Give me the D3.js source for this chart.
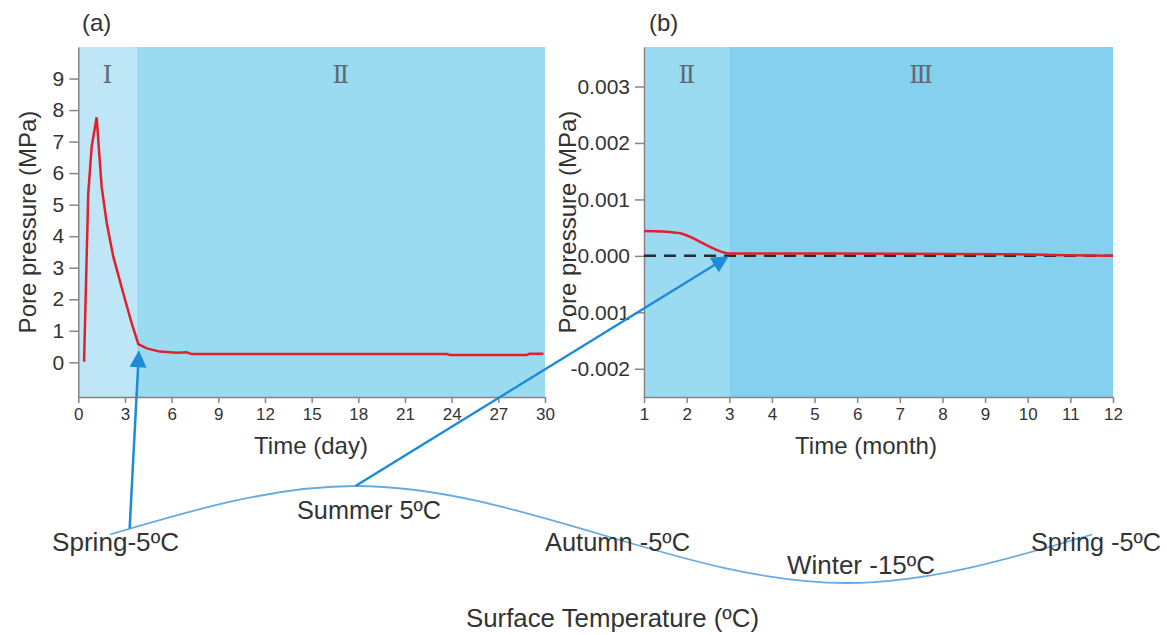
<!DOCTYPE html>
<html>
<head>
<meta charset="utf-8">
<script src="https://cdn.jsdelivr.net/npm/d3@7"></script>
<style>
  body { margin: 0; background: #fff; }
  svg text { font-family: "Liberation Sans", Arial, sans-serif; fill: #333; }
</style>
</head>
<body>
<svg id="chart" width="1167" height="635"></svg>
<script>
"use strict"

// panel (a): pore pressure during the first 30 days
const dayTimes    = [0.37, 0.64, 0.86, 1.18, 1.5, 1.83, 2.25, 2.89, 3.43, 3.86, 4.4, 5.25, 6.32, 6.97, 7.29, 23.7, 23.9, 28.8, 29.0, 29.9];
const dayPressure = [0.02, 5.36, 6.84, 7.77, 5.57, 4.41, 3.35, 2.19, 1.24, 0.58, 0.44, 0.34, 0.30, 0.32, 0.26, 0.26, 0.23, 0.23, 0.27, 0.27];
const dayTicks = [0, 3, 6, 9, 12, 15, 18, 21, 24, 27, 30];
const dayPressureTicks = [0, 1, 2, 3, 4, 5, 6, 7, 8, 9];
const dayStageNames = ["Ⅰ", "Ⅱ"];
const dayStageBounds = [0, 3.75, 30];

// panel (b): pore pressure over the year
const monthTimes    = [1, 1.45, 1.85, 2.24, 2.55, 2.79, 3.02, 5.4, 9.5, 11, 12];
const monthPressure = [0.00044, 0.00043, 0.0004, 0.00028, 0.00016, 0.00008, 0.00004, 0.00004, 0.00003, 0.00001, 0];
const monthTicks = [1, 2, 3, 4, 5, 6, 7, 8, 9, 10, 11, 12];
const monthPressureTicks = [-0.002, -0.001, 0, 0.001, 0.002, 0.003];
const monthStageNames = ["Ⅱ", "Ⅲ"];
const monthStageBounds = [1, 3, 12];

// surface temperature through the seasons
const seasonTemps = [-5, 5, -5, -15, -5];
const seasonLabels = ["Spring-5ºC", "Summer 5ºC", "Autumn -5ºC", "Winter -15ºC", "Spring -5ºC"];

const svg = d3.select("#chart");

const plotTop = 47, plotBottom = 397;
const xA = d3.scaleLinear().domain([0, 30]).range([78.3, 545]);
const yA = d3.scaleLinear().domain([-1.1, 10]).range([plotBottom, plotTop]);
const xB = d3.scaleLinear().domain([1, 12]).range([644, 1113]);
const yB = d3.scaleLinear().domain([-0.0025, 0.0037]).range([plotBottom, plotTop]);
const xS = d3.scaleLinear().domain([0, 4]).range([110, 1092]);
const yS = d3.scaleLinear().domain([-15, 5]).range([583, 486]);

const stageColors = {"Ⅰ": "#bee6f6", "Ⅱ": "#9bdbf2", "Ⅲ": "#84d0ee"};

function drawStages(names, bounds, x) {
    names.forEach(function(name, i) {
        svg.append("rect")
            .attr("x", x(bounds[i]))
            .attr("y", plotTop)
            .attr("width", x(bounds[i + 1]) - x(bounds[i]))
            .attr("height", plotBottom - plotTop)
            .style("fill", stageColors[name]);
        svg.append("text")
            .attr("x", (x(bounds[i]) + x(bounds[i + 1])) / 2)
            .attr("y", 83)
            .attr("text-anchor", "middle")
            .style("font-family", "'Liberation Serif', 'DejaVu Serif', serif")
            .style("font-size", "25px")
            .style("fill", "#5d6c72")
            .text(name);
    });
}

function drawAxes(x, y, xTicks, yTicks, yFormat) {
    let gx = svg.append("g")
        .attr("transform", "translate(0," + plotBottom + ")")
        .call(d3.axisBottom(x).tickValues(xTicks).tickSize(6).tickSizeOuter(0).tickPadding(5));
    gx.selectAll("text").style("font-size", "17px");

    let gy = svg.append("g")
        .attr("transform", "translate(" + x.range()[0] + ",0)")
        .call(d3.axisLeft(y).tickValues(yTicks).tickFormat(yFormat).tickSize(9).tickSizeOuter(0).tickPadding(5));
    gy.selectAll("text").style("font-size", "21px");

    svg.selectAll(".domain, .tick line")
        .style("stroke", "#858585")
        .style("stroke-width", "1.5px");
}

function drawCurve(xs, ys, x, y, curve) {
    let line = d3.line()
        .x(function(d) { return x(d[0]); })
        .y(function(d) { return y(d[1]); })
        .curve(curve);
    svg.append("path")
        .datum(d3.zip(xs, ys))
        .attr("d", line)
        .style("fill", "none")
        .style("stroke", "#e2202b")
        .style("stroke-width", "2.5px");
}

function axisTitles(label, yLabelX, xLabelCenter, panelName, panelX) {
    svg.append("text")
        .attr("transform", "translate(" + yLabelX + "," + (plotTop + plotBottom) / 2 + ") rotate(-90)")
        .attr("text-anchor", "middle")
        .style("font-size", "24px")
        .text("Pore pressure (MPa)");
    svg.append("text")
        .attr("x", xLabelCenter)
        .attr("y", 454)
        .attr("text-anchor", "middle")
        .style("font-size", "24px")
        .text(label);
    svg.append("text")
        .attr("x", panelX)
        .attr("y", 31)
        .style("font-size", "24px")
        .text(panelName);
}

// panel (a)
drawStages(dayStageNames, dayStageBounds, xA);
drawAxes(xA, yA, dayTicks, dayPressureTicks, d3.format("d"));
drawCurve(dayTimes, dayPressure, xA, yA, d3.curveLinear);
axisTitles("Time (day)", 36, 311, "(a)", 82);

// panel (b)
drawStages(monthStageNames, monthStageBounds, xB);
drawAxes(xB, yB, monthTicks, monthPressureTicks, function(d) { return d.toFixed(3); });
svg.append("line")
    .attr("x1", xB(1)).attr("x2", xB(12))
    .attr("y1", yB(0)).attr("y2", yB(0))
    .style("stroke", "#2b2b2b")
    .style("stroke-width", "2.5px")
    .style("stroke-dasharray", "12,8");
drawCurve(monthTimes, monthPressure, xB, yB, d3.curveMonotoneX);
axisTitles("Time (month)", 576, 866, "(b)", 649);

// temperature curve
svg.append("path")
    .datum(seasonTemps)
    .attr("d", d3.line()
        .x(function(d, i) { return xS(i); })
        .y(function(d) { return yS(d); })
        .curve(d3.curveNatural))
    .style("fill", "none")
    .style("stroke", "#67abdf")
    .style("stroke-width", "1.8px");

const labelPos = [[52, 551, 127], [297, 519, 144], [545, 551, 145], [787, 574, 148], [1031, 551, 130]];
seasonLabels.forEach(function(t, i) {
    svg.append("text")
        .attr("x", labelPos[i][0])
        .attr("y", labelPos[i][1])
        .attr("textLength", labelPos[i][2])
        .attr("lengthAdjust", "spacingAndGlyphs")
        .style("font-size", "26px")
        .text(t);
});
svg.append("text")
    .attr("x", 466)
    .attr("y", 627)
    .attr("textLength", 293)
    .attr("lengthAdjust", "spacingAndGlyphs")
    .style("font-size", "26px")
    .text("Surface Temperature (ºC)");

// arrows from the seasons to the pore pressure curves
svg.append("defs").append("marker")
    .attr("id", "head")
    .attr("viewBox", "0 0 10 10")
    .attr("refX", 8)
    .attr("refY", 5)
    .attr("markerUnits", "userSpaceOnUse")
    .attr("markerWidth", 19)
    .attr("markerHeight", 17)
    .attr("orient", "auto")
    .append("path")
    .attr("d", "M0,0 L10,5 L0,10 Z")
    .style("fill", "#1b8cd5");

function arrow(x1, y1, x2, y2) {
    let len = Math.hypot(x2 - x1, y2 - y1);
    let k = (len - 4) / len;
    svg.append("line")
        .attr("x1", x1).attr("y1", y1)
        .attr("x2", x1 + (x2 - x1) * k).attr("y2", y1 + (y2 - y1) * k)
        .attr("marker-end", "url(#head)")
        .style("stroke", "#1b8cd5")
        .style("stroke-width", "2.5px");
}
arrow(xS(0.08), yS(-5 + 10 * Math.sin(0.08 * Math.PI / 2)), xA(3.9), yA(0.4));
arrow(xS(1), yS(seasonTemps[1]), xB(3), yB(0));
</script>
</body>
</html>
